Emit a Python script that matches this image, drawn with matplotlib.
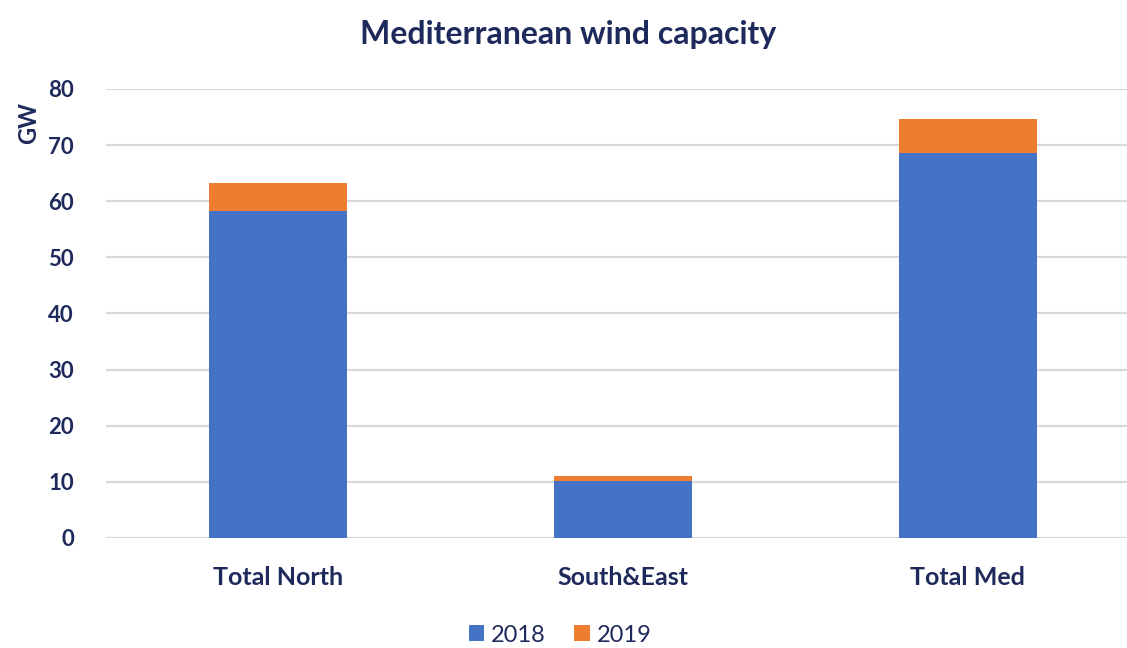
import matplotlib
matplotlib.use("Agg")
import matplotlib.pyplot as plt
import numpy as np

# wind capacity by region, GW
regions = ["Total North", "South&East", "Total Med"]
years = ["2018", "2019"]
cap_2018 = [58.3, 10.2, 68.6]
cap_2019 = [5.0, 0.9, 6.0]

navy = "#1f2a5c"
colors = ["#4472c4", "#ed7d31"]
plt.rcParams["font.family"] = ["Lato", "DejaVu Sans"]

fig = plt.figure(figsize=(11.27, 6.48), dpi=100)
ax = fig.add_axes([0.094, 0.1698, 0.906, 0.6929])

x = np.arange(len(regions))
ax.bar(x, cap_2018, width=0.4, color=colors[0], label=years[0], zorder=3)
ax.bar(x, cap_2019, width=0.4, bottom=cap_2018, color=colors[1], label=years[1], zorder=3)

ax.set_xlim(-0.5, 2.462)
ax.set_ylim(0, 80)
ax.set_yticks(np.arange(0, 81, 10))
ax.grid(axis="y", color="#d9d9d9", linewidth=1.6, zorder=0)
for s in ax.spines.values():
    s.set_visible(False)
ax.tick_params(length=0)
ax.tick_params(axis="y", labelsize=16, labelcolor=navy, pad=23)
for lbl in ax.get_yticklabels():
    lbl.set_fontweight("bold")
ax.set_xticks(x)
ax.set_xticklabels(regions, fontsize=18, fontweight="bold", color=navy)
ax.tick_params(axis="x", pad=20)

fig.text(0.025, 0.81, "GW", rotation=90, fontsize=17, fontweight="bold",
         color=navy, ha="center", va="center")
fig.text(0.504, 0.946, "Mediterranean wind capacity", fontsize=23, fontweight="bold",
         color=navy, ha="center", va="center")

fig.legend(loc="center", bbox_to_anchor=(0.497, 0.02), ncol=2, frameon=False,
           fontsize=17, labelcolor=navy, handlelength=0.65, handleheight=0.65,
           handletextpad=0.3, columnspacing=1.2)

fig.savefig("out.png", dpi=100)
